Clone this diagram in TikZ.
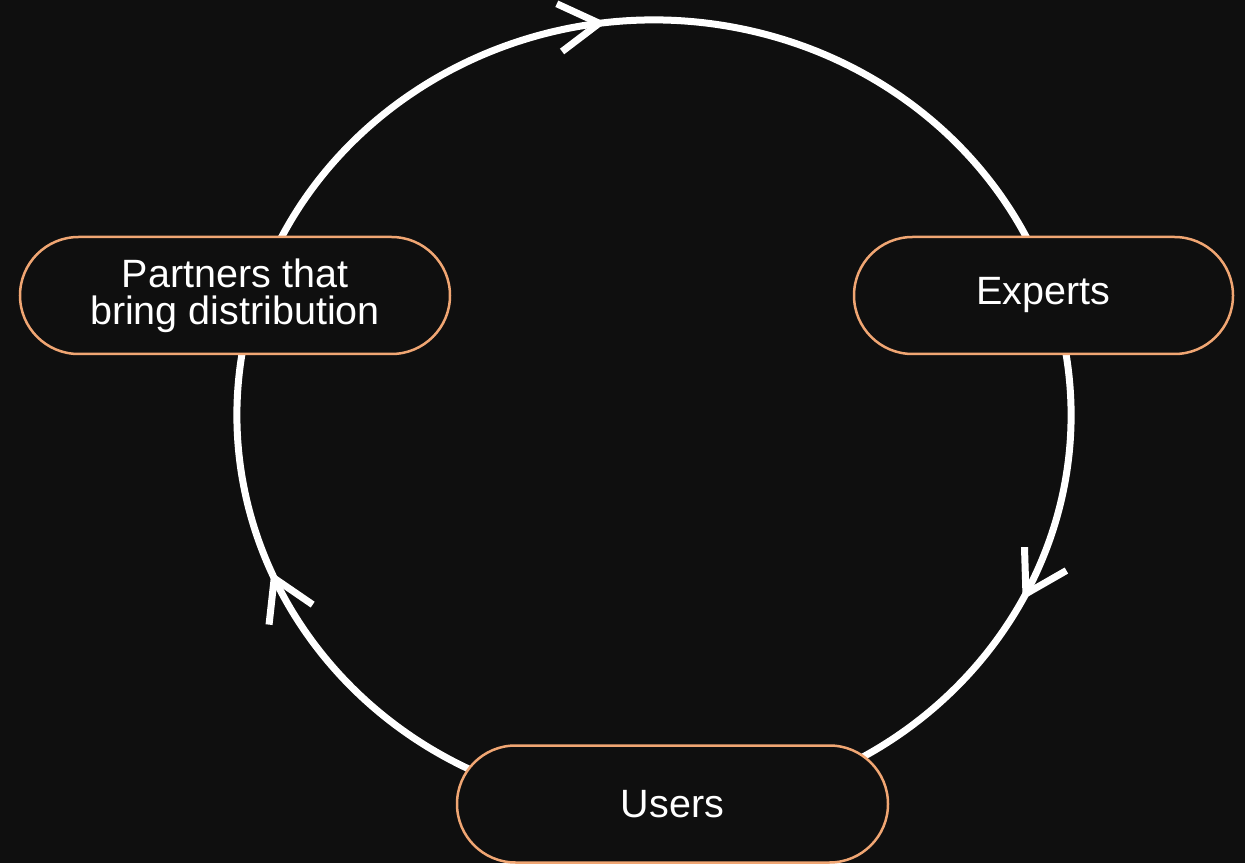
\documentclass[tikz,border=0pt]{standalone}
\usepackage{fontspec}
\setmainfont{Liberation Sans}
\usetikzlibrary{arrows.meta,decorations.markings,shapes.misc}
\definecolor{bg}{HTML}{0F0F0F}
\definecolor{peach}{HTML}{F0A673}
\begin{document}
\begin{tikzpicture}[x=1pt,y=1pt,
  pill/.style={rounded rectangle, draw=peach, line width=2.5pt, fill=bg,
    text=white, minimum height=117pt, inner sep=0pt, align=center,
    font=\fontsize{39.5}{37}\selectfont},
  loop/.style={draw=white, line width=7pt},
  chevron/.style={postaction={decorate}, decoration={markings,
    mark=at position #1 with {\arrow{Straight Barb[length=40pt,width=48pt]}}}}
]
% canvas
\fill[bg] (0,0) rectangle (1245,863);
\useasboundingbox (0,0) rectangle (1245,863);

% cycle path (ellipse centred at c)
\coordinate (c) at (654,448);
\path (c) ++(165:417pt and 395pt) coordinate (pA);
\path (c) ++(15:417pt and 395pt) coordinate (eA);
\path (c) ++(-105:417pt and 395pt) coordinate (uA);

\draw[loop, chevron=0.455] (pA) arc[start angle=165, end angle=15, x radius=417pt, y radius=395pt];
\draw[loop, chevron=0.469] (eA) arc[start angle=15, end angle=-75, x radius=417pt, y radius=395pt];
\draw[loop, chevron=0.58] (uA) arc[start angle=-105, end angle=-195, x radius=417pt, y radius=395pt];

% stages
\node[pill, minimum width=430pt] (partners) at (235,567.5) {Partners that\\bring distribution};
\node[pill, minimum width=379pt] (experts) at (1043.5,567.5) {Experts};
\node[pill, minimum width=431pt] (users) at (672.5,59) {Users};
\end{tikzpicture}
\end{document}
